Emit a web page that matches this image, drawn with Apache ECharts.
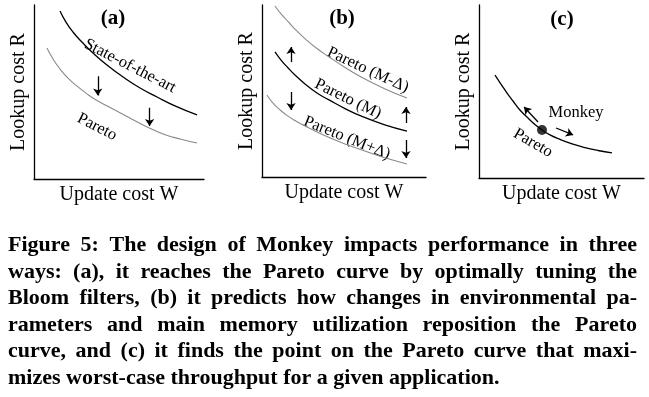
<!DOCTYPE html>
<html>
<head>
<meta charset="utf-8">
<script src="https://cdn.jsdelivr.net/npm/echarts@6/dist/echarts.min.js"></script>
<style>
  html, body { margin: 0; padding: 0; background: #fff; }
  #chart { width: 649px; height: 397px; }
</style>
</head>
<body>
<div id="chart"></div>
<script>
// panel (a): state of the art vs pareto
const sotaA = [[1.53, 9.66], [1.88, 9.02], [2.29, 8.45], [2.82, 7.87], [3.47, 7.24], [4.29, 6.55], [5.24, 5.86], [6.24, 5.23], [7.24, 4.71], [8.29, 4.2], [9.59, 3.68]]
const paretoA = [[0.76, 7.53], [1.12, 6.9], [1.53, 6.32], [2.0, 5.8], [2.53, 5.34], [3.12, 4.89], [3.76, 4.48], [4.59, 4.05], [5.53, 3.56], [6.53, 3.05], [7.59, 2.59], [8.59, 2.3], [9.59, 2.07]]
const arrowsA = [[[3.75, 5.9], [3.75, 4.8]], [[6.8, 4.1], [6.8, 3.05]]]

// panel (b): pareto curve for M-delta, M, M+delta
const paretoMinus = [[0.79, 9.94], [1.16, 9.48], [1.59, 9.04], [2.01, 8.6], [2.62, 8.05], [3.35, 7.47], [4.09, 6.98], [5.06, 6.37], [6.1, 5.78], [7.44, 5.15], [8.84, 4.59]]
const paretoM = [[0.79, 7.27], [1.16, 6.8], [1.59, 6.34], [2.01, 5.93], [2.62, 5.41], [3.35, 4.88], [4.09, 4.48], [5.06, 3.98], [6.1, 3.52], [7.44, 3.05], [8.84, 2.67]]
const paretoPlus = [[0.3, 4.77], [0.67, 4.3], [1.1, 3.9], [1.52, 3.58], [2.01, 3.28], [2.62, 2.97], [3.35, 2.62], [4.09, 2.3], [5.06, 1.92], [6.1, 1.57], [7.44, 1.13], [8.84, 0.76]]
const arrowsB = [[[1.77, 6.69], [1.77, 7.56]], [[1.77, 4.94], [1.77, 3.9]], [[8.78, 3.14], [8.78, 4.07]], [[8.78, 2.15], [8.78, 1.1]]]

// panel (c): monkey on the pareto curve
const paretoC = [[0.97, 5.95], [1.33, 5.43], [1.7, 4.91], [2.06, 4.45], [2.48, 3.93], [2.97, 3.47], [3.39, 3.09], [3.82, 2.77], [4.3, 2.49], [4.91, 2.23], [5.64, 1.97], [6.42, 1.76], [7.21, 1.59], [8.06, 1.45]]
const monkeyPoint = [[3.82, 2.77]]
const arrowsC = [[[3.58, 3.24], [2.73, 4.1]], [[4.67, 2.89], [5.7, 2.49]]]

const xTitle = 'Update cost W'
const yTitle = 'Lookup cost R'

const captionLines = [
  'Figure 5: The design of Monkey impacts performance in three',
  'ways: (a), it reaches the Pareto curve by optimally tuning the',
  'Bloom filters, (b) it predicts how changes in environmental pa-',
  'rameters and main memory utilization reposition the Pareto',
  'curve, and (c) it finds the point on the Pareto curve that maxi-',
  'mizes worst-case throughput for a given application.'
]

const serif = '"Liberation Serif", "Times New Roman", serif'
const captionFont = 'bold 22px ' + serif

const grids = [
  { left: 34, top: 5, width: 170, height: 174 },
  { left: 262, top: 5, width: 164, height: 172 },
  { left: 479, top: 5, width: 165, height: 173 }
]

const axisLine = { show: true, lineStyle: { color: '#000', width: 1.3 } }

const xAxes = grids.map((g, i) => ({
  gridIndex: i, type: 'value', min: 0, max: 10,
  axisLine, axisTick: { show: false }, axisLabel: { show: false }, splitLine: { show: false },
  name: xTitle, nameLocation: 'middle', nameGap: 6,
  nameTextStyle: { color: '#000', fontFamily: serif, fontSize: 20 }
}))
const yAxes = grids.map((g, i) => ({
  gridIndex: i, type: 'value', min: 0, max: 10,
  axisLine, axisTick: { show: false }, axisLabel: { show: false }, splitLine: { show: false },
  name: yTitle, nameLocation: 'middle', nameGap: 5,
  nameTextStyle: { color: '#000', fontFamily: serif, fontSize: 20 }
}))

const curve = (data, idx, color, width) => ({
  type: 'line', data, xAxisIndex: idx, yAxisIndex: idx,
  smooth: 0.5, showSymbol: false, silent: true,
  lineStyle: { color, width }
})

const arrows = (list, idx) => ({
  type: 'lines', coordinateSystem: 'cartesian2d', xAxisIndex: idx, yAxisIndex: idx,
  symbol: ['none', 'arrow'], symbolSize: 7, silent: true,
  lineStyle: { color: '#000', width: 1.3, opacity: 1 },
  data: list.map(c => ({ coords: c }))
})

const label = (text, x, y, deg, opts = {}) => ({
  type: 'text', x, y, rotation: -deg * Math.PI / 180,
  style: Object.assign({
    text, fill: '#000', align: 'center', verticalAlign: 'middle',
    font: '16.5px ' + serif
  }, opts)
})

// justified caption, placed word by word
const buildCaption = () => {
  const ctx = document.createElement('canvas').getContext('2d')
  ctx.font = captionFont
  const left = 8, right = 637, firstY = 245.5, lh = 26.5
  const els = []
  captionLines.forEach((line, i) => {
    const words = line.split(' ')
    const widths = words.map(w => ctx.measureText(w).width)
    const total = widths.reduce((a, b) => a + b, 0)
    const last = i === captionLines.length - 1
    const gap = last ? ctx.measureText(' ').width : (right - left - total) / (words.length - 1)
    let x = left
    words.forEach((w, j) => {
      els.push({
        type: 'text', x, y: firstY + i * lh,
        style: { text: w, font: captionFont, fill: '#000', align: 'left', verticalAlign: 'middle' }
      })
      x += widths[j] + gap
    })
  })
  return els
}

const chart = echarts.init(document.getElementById('chart'), null, { renderer: 'canvas' })

chart.setOption({
  animation: false,
  backgroundColor: '#fff',
  grid: grids,
  xAxis: xAxes,
  yAxis: yAxes,
  series: [
    curve(sotaA, 0, '#000', 1.3),
    curve(paretoA, 0, '#8a8a8a', 1.1),
    arrows(arrowsA, 0),
    curve(paretoMinus, 1, '#8a8a8a', 1.1),
    curve(paretoM, 1, '#000', 1.3),
    curve(paretoPlus, 1, '#8a8a8a', 1.1),
    arrows(arrowsB, 1),
    curve(paretoC, 2, '#000', 1.3),
    arrows(arrowsC, 2),
    {
      type: 'scatter', data: monkeyPoint, xAxisIndex: 2, yAxisIndex: 2,
      symbolSize: 10, itemStyle: { color: '#000' }, silent: true
    }
  ],
  graphic: [
    label('(a)', 113, 19, 0, { font: 'bold 21px ' + serif }),
    label('(b)', 342, 19, 0, { font: 'bold 21px ' + serif }),
    label('(c)', 562, 20, 0, { font: 'bold 21px ' + serif }),
    label('State-of-the-art', 130, 66, 27),
    label('Pareto', 97, 127, 27),
    label('Pareto (M-Δ)', 368, 70, 25),
    label('Pareto (M)', 348, 99, 26),
    label('Pareto (M+Δ)', 347, 138, 22),
    label('Pareto', 533, 143, 30),
    label('Monkey', 576, 113, 0)
  ].concat(buildCaption())
})

window.addEventListener('resize', () => chart.resize())
</script>
</body>
</html>
